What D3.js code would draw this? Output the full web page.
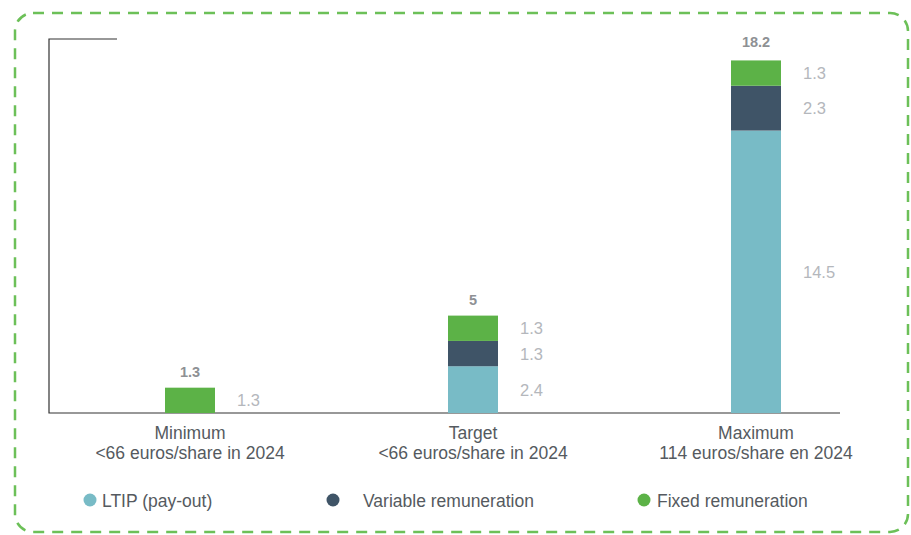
<!DOCTYPE html>
<html><head><meta charset="utf-8">
<script src="https://cdn.jsdelivr.net/npm/d3@7"></script>
<style>html,body{margin:0;padding:0;background:#fff;}svg{display:block;font-family:"Liberation Sans",Arial,sans-serif;}</style>
</head><body>
<svg id="chart" width="911" height="535"></svg>
<script>
const categories = ["Minimum", "Target", "Maximum"];
const subLabels = ["<66 euros/share in 2024", "<66 euros/share in 2024", "114 euros/share en 2024"];
const seriesNames = ["LTIP (pay-out)", "Variable remuneration", "Fixed remuneration"];
const ltip = [0, 2.4, 14.5];
const variable = [0, 1.3, 2.3];
const fixed = [1.3, 1.3, 1.3];
const totals = [1.3, 5, 18.2];
const colors = ["#78bbc6", "#3f5467", "#5cb247"];

const svg = d3.select("#chart");

// dashed frame
svg.append("rect").attr("x", 15).attr("y", 13).attr("width", 893).attr("height", 519)
  .attr("rx", 18).attr("ry", 18).attr("fill", "none")
  .attr("stroke", "#6cc058").attr("stroke-width", 2.5).attr("stroke-dasharray", "11,8");

const x0 = 49, x1 = 840, yBase = 413, yTop = 39;
const y = d3.scaleLinear().domain([0, 19.2]).range([yBase, yTop]);
const x = d3.scalePoint().domain(categories).range([190, 756]);
const barW = 50;

const seriesArrays = [ltip, variable, fixed];
const keys = ["ltip", "variable", "fixed"];
const rows = categories.map((c, i) => ({cat: c, idx: i, ltip: ltip[i], variable: variable[i], fixed: fixed[i]}));
const stack = d3.stack().keys(keys)(rows);

// axes lines
svg.append("path")
  .attr("d", `M${x0 + 68},${y(19.2)}H${x0}V${y(0)}H${x1}`)
  .attr("fill", "none").attr("stroke", "#333").attr("stroke-width", 1.2);

stack.forEach((layer, k) => {
  const segs = layer.filter(d => seriesArrays[k][d.data.idx] > 0);
  svg.append("g").selectAll("rect").data(segs).join("rect")
    .attr("x", d => x(d.data.cat) - barW / 2)
    .attr("y", d => y(d[1]))
    .attr("width", barW)
    .attr("height", d => y(d[0]) - y(d[1]))
    .attr("fill", colors[k]);
  svg.append("g").selectAll("text").data(segs).join("text")
    .attr("x", d => x(d.data.cat) + barW / 2 + 22)
    .attr("y", d => (y(d[0]) + y(d[1])) / 2 + 6)
    .attr("fill", "#b4b7bc").attr("font-size", 16.5)
    .text(d => seriesArrays[k][d.data.idx]);
});

// totals
svg.append("g").selectAll("text").data(categories).join("text")
  .attr("x", d => x(d)).attr("y", (d, i) => y(totals[i]) - 11)
  .attr("text-anchor", "middle").attr("font-size", 14.5).attr("font-weight", "bold")
  .attr("fill", "#8e9194").text((d, i) => totals[i]);

// category labels
const cl = svg.append("g").selectAll("text").data(categories).join("text")
  .attr("x", d => x(d)).attr("y", 439).attr("text-anchor", "middle")
  .attr("font-size", 17.5).attr("fill", "#555a60");
cl.append("tspan").attr("x", d => x(d)).text(d => d);
cl.append("tspan").attr("x", d => x(d)).attr("dy", 20).text((d, i) => subLabels[i]);

// legend
const legX = [90, 333, 644];
const legTextX = [102, 363, 657];
const lg = svg.append("g").selectAll("g").data(seriesNames).join("g");
lg.append("circle").attr("cx", (d, i) => legX[i]).attr("cy", 500).attr("r", 6.5)
  .attr("fill", (d, i) => colors[i]);
lg.append("text").attr("x", (d, i) => legTextX[i]).attr("y", 506.5)
  .attr("font-size", 17.5).attr("fill", "#555a60").text(d => d);
</script>
</body></html>
